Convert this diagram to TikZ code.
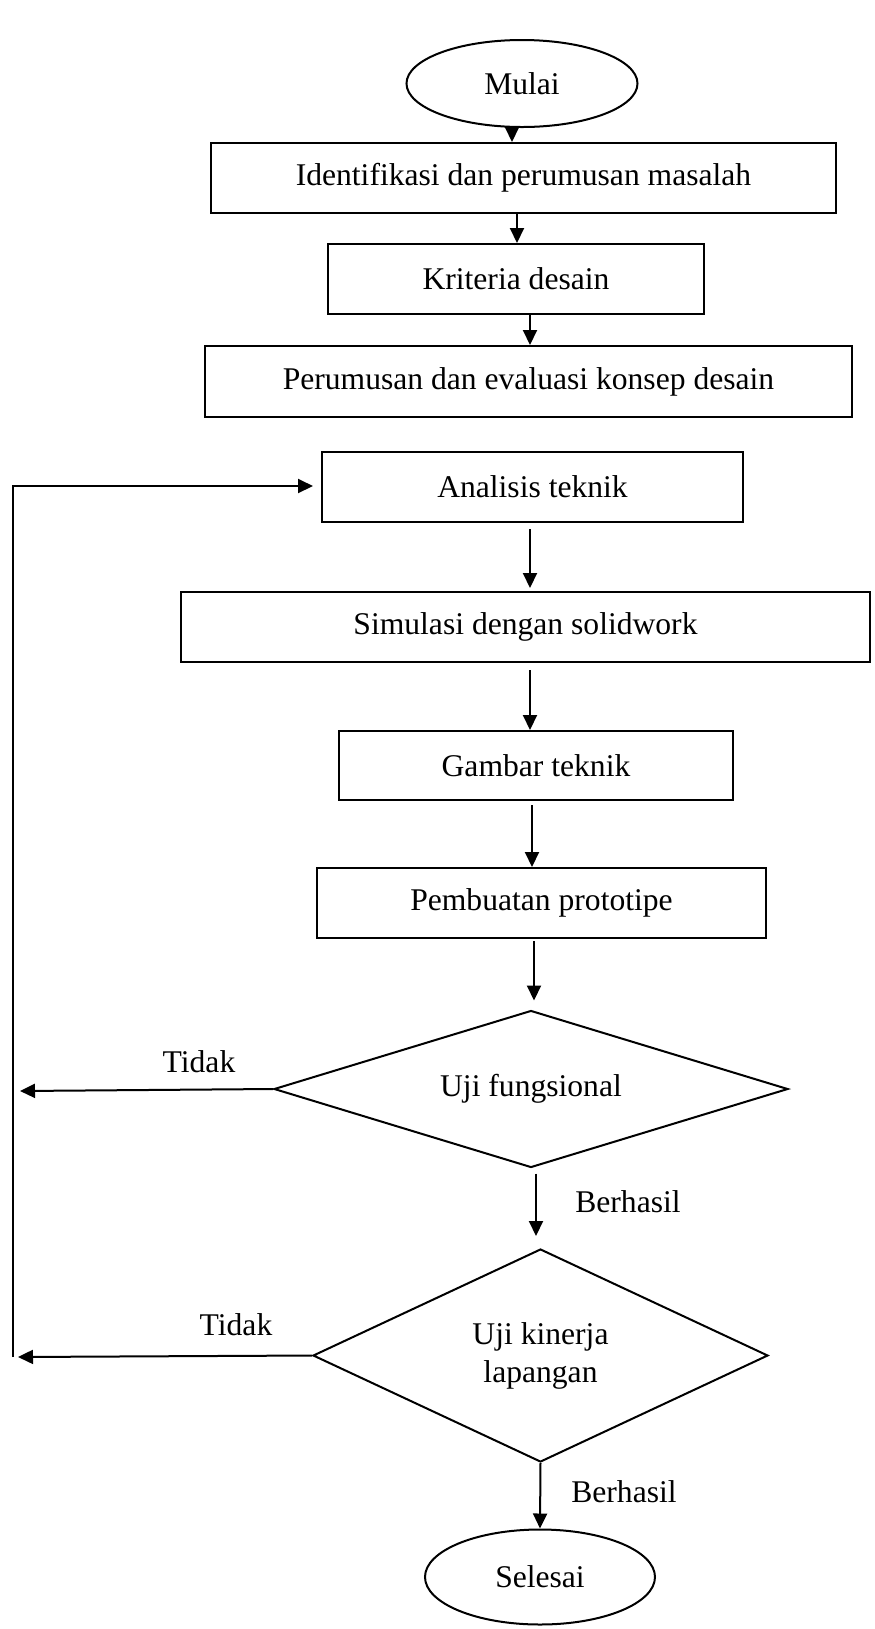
\documentclass[tikz,border=0pt]{standalone}
\usepackage{fontspec}
\setmainfont{Liberation Serif}
\usetikzlibrary{shapes.geometric,arrows.meta,calc}
\begin{document}
\begin{tikzpicture}[x=0.5pt,y=-0.5pt,
  every node/.style={font=\fontsize{15.8}{19}\selectfont},
  lw/.style={line width=1pt},
  box/.style={draw,lw,rectangle,inner sep=0pt},
  oval/.style={draw,lw,ellipse,inner sep=0pt},
  dia/.style={draw,lw,diamond,inner sep=0pt},
  arr/.style={lw,-{Triangle[length=7.5pt,width=7pt]}},
  lbl/.style={inner sep=0pt}]
\useasboundingbox (0,0) rectangle (874,1629);
\node[oval,minimum width=231*0.5pt,minimum height=87*0.5pt] (mulai) at (522,83.5) {Mulai};
\node[box,minimum width=625*0.5pt,minimum height=70*0.5pt] (b1) at (523.5,178) {Identifikasi dan perumusan masalah};
\node[box,minimum width=376*0.5pt,minimum height=70*0.5pt] (b2) at (516,279) {Kriteria desain};
\node[box,minimum width=647*0.5pt,minimum height=71*0.5pt] (b3) at (528.5,381.5) {Perumusan dan evaluasi konsep desain};
\node[box,minimum width=421*0.5pt,minimum height=70*0.5pt] (b4) at (532.5,487) {Analisis teknik};
\node[box,minimum width=689*0.5pt,minimum height=70*0.5pt] (b5) at (525.5,627) {Simulasi dengan solidwork};
\node[box,minimum width=394*0.5pt,minimum height=69*0.5pt] (b6) at (536,765.5) {Gambar teknik};
\node[box,minimum width=449*0.5pt,minimum height=70*0.5pt] (b7) at (541.5,903) {Pembuatan prototipe};
\node[dia,shape aspect=3.27,minimum width=514*0.5pt,minimum height=157*0.5pt] (d1) at (531,1089) {Uji fungsional};
\node[dia,shape aspect=2.14,minimum width=455*0.5pt,minimum height=213*0.5pt,align=center] (d2) at (540.5,1355.5) {Uji kinerja\\lapangan};
\node[oval,minimum width=230*0.5pt,minimum height=95*0.5pt] (selesai) at (540,1577) {Selesai};

\node[lbl] (t1) at (199,1062) {Tidak};
\node[lbl] (t2) at (236,1325) {Tidak};
\node[lbl] (h1) at (628,1202) {Berhasil};
\node[lbl] (h2) at (624,1492) {Berhasil};

\coordinate (c1) at (20,1091);
\coordinate (c2) at (18,1357);
\coordinate (lb) at (13,1357);
\coordinate (lt) at (13,486);

\draw[arr] (mulai.south -| 512,0) -- (b1.north -| 512,0);
\draw[arr] (b1.south -| 517,0) -- (b2.north -| 517,0);
\draw[arr] (b2.south -| 530,0) -- (b3.north -| 530,0);
\draw[arr,shorten <=6*0.5pt,shorten >=3*0.5pt] (b4.south -| 530,0) -- (b5.north -| 530,0);
\draw[arr,shorten <=7*0.5pt] (b5.south -| 530,0) -- (b6.north -| 530,0);
\draw[arr,shorten <=4*0.5pt] (b6.south -| 532,0) -- (b7.north -| 532,0);
\draw[arr,shorten <=2*0.5pt,shorten >=9*0.5pt] (b7.south -| 534,0) -- (d1.north -| 534,0);
\draw[arr,shorten <=5*0.5pt,shorten >=12*0.5pt] (d1.south -| 536,0) -- (d2.north -| 536,0);
\draw[arr] (d2.south) -- (selesai.north);
\draw[arr] (d1.west) -- (c1);
\draw[arr] (d2.west) -- (c2);
\draw[arr,shorten >=8*0.5pt] (lb) -- (lt) -- (b4.west |- lt);
\end{tikzpicture}
\end{document}
